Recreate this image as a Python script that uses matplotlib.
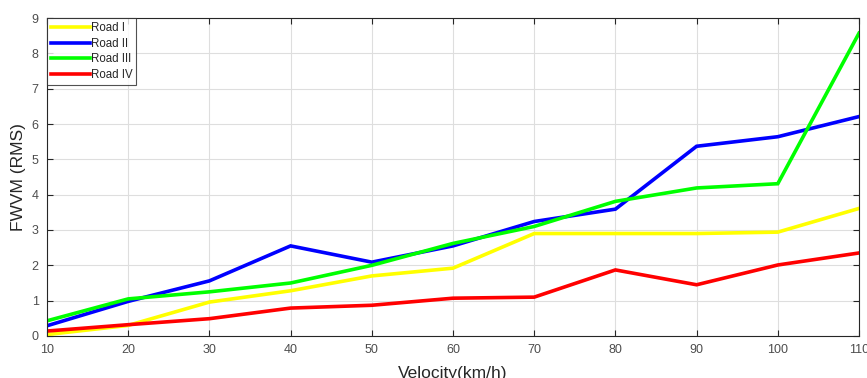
import matplotlib
matplotlib.use("Agg")
import matplotlib.pyplot as plt

plt.rcParams["font.family"] = ["Liberation Sans", "DejaVu Sans"]

velocity = [10, 20, 30, 40, 50, 60, 70, 80, 90, 100, 110]
road_1 = [0.04, 0.30, 0.96, 1.28, 1.70, 1.92, 2.90, 2.90, 2.90, 2.94, 3.61]
road_2 = [0.29, 0.98, 1.56, 2.55, 2.09, 2.55, 3.24, 3.59, 5.37, 5.64, 6.21]
road_3 = [0.43, 1.05, 1.25, 1.50, 2.00, 2.62, 3.10, 3.81, 4.19, 4.31, 8.57]
road_4 = [0.14, 0.32, 0.49, 0.79, 0.87, 1.07, 1.10, 1.87, 1.45, 2.01, 2.35]

labels = ["Road I", "Road II", "Road III", "Road IV"]
colors = ["#ffff00", "#0000ff", "#00ff00", "#ff0000"]

fig = plt.figure(figsize=(8.67, 3.78), dpi=100)
ax = fig.add_axes([47 / 867, 42 / 378, 812 / 867, 318 / 378])

for ys, lab, col in zip([road_1, road_2, road_3, road_4], labels, colors):
    ax.plot(velocity, ys, color=col, lw=2.6, label=lab, solid_joinstyle="miter")

ax.set_xlim(10, 110)
ax.set_ylim(0, 9)
ax.set_xticks(velocity)
ax.set_yticks(range(0, 10))
ax.grid(True, color="#dedede", lw=0.8)
ax.set_axisbelow(True)

ax.tick_params(direction="in", length=4, width=0.8, top=True, right=True,
               labelsize=9, colors="#262626", labelcolor="#4d4d4d", pad=6)
for sp in ax.spines.values():
    sp.set_color("#262626")
    sp.set_linewidth(0.8)

ax.set_xlabel("Velocity(km/h)", fontsize=12.5, color="#262626", labelpad=7)
ax.set_ylabel("FWVM (RMS)", fontsize=12.5, color="#262626", labelpad=4)

leg = ax.legend(loc="upper left", fontsize=8.3, frameon=True, fancybox=False,
                borderaxespad=0, handlelength=3.4, handletextpad=0.05,
                labelspacing=0.32, borderpad=0.35)
leg.get_frame().set_edgecolor("#262626")
leg.get_frame().set_linewidth(0.8)
for t in leg.get_texts():
    t.set_color("#262626")

fig.savefig("out.png", dpi=100)
